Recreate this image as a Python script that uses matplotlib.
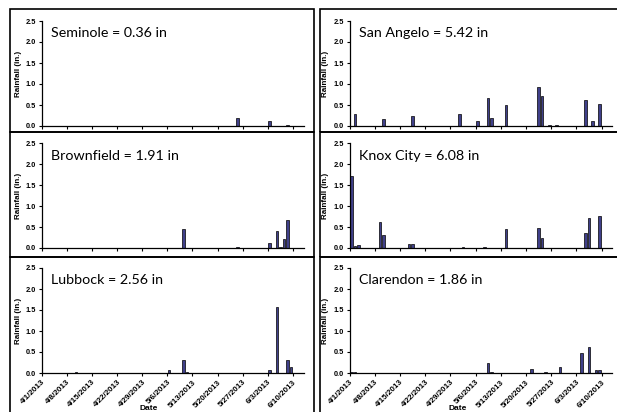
import matplotlib
matplotlib.use("Agg")
import matplotlib.pyplot as plt
from matplotlib.patches import Rectangle
import pandas as pd

# rainfall by station, spring 2013 (dates are m/d)
START = pd.Timestamp("2013-04-01")
N_DAYS = 73

stations = ["Seminole", "San Angelo", "Brownfield", "Knox City", "Lubbock", "Clarendon"]
totals = ["0.36", "5.42", "1.91", "6.08", "2.56", "1.86"]

seminole_dates = ["5/15", "5/25", "6/3", "6/5", "6/8"]
seminole_rain = [0.01, 0.19, 0.12, 0.01, 0.03]

san_angelo_dates = ["4/2", "4/10", "4/18", "5/1", "5/6", "5/9", "5/10", "5/14", "5/15",
                    "5/23", "5/24", "5/26", "5/28", "6/5", "6/7", "6/9"]
san_angelo_rain = [0.28, 0.17, 0.23, 0.29, 0.11, 0.66, 0.20, 0.50, 0.01,
                   0.93, 0.72, 0.03, 0.03, 0.62, 0.11, 0.53]

brownfield_dates = ["5/10", "5/15", "5/25", "6/3", "6/5", "6/6", "6/7", "6/8"]
brownfield_rain = [0.45, 0.01, 0.02, 0.12, 0.40, 0.03, 0.22, 0.66]

knox_city_dates = ["4/1", "4/2", "4/3", "4/9", "4/10", "4/17", "4/18", "5/2", "5/8",
                   "5/14", "5/21", "5/23", "5/24", "5/25", "6/5", "6/6", "6/9"]
knox_city_rain = [1.72, 0.05, 0.07, 0.62, 0.32, 0.10, 0.10, 0.02, 0.02,
                  0.46, 0.01, 0.48, 0.24, 0.01, 0.37, 0.72, 0.77]

lubbock_dates = ["4/10", "5/6", "5/10", "5/11", "5/23", "6/3", "6/5", "6/6", "6/8", "6/9"]
lubbock_rain = [0.02, 0.07, 0.31, 0.03, 0.01, 0.08, 1.57, 0.01, 0.31, 0.15]

clarendon_dates = ["4/1", "4/2", "4/9", "4/10", "4/17", "5/6", "5/7", "5/9", "5/10",
                   "5/17", "5/21", "5/25", "5/29", "6/4", "6/6", "6/8", "6/9"]
clarendon_rain = [0.03, 0.03, 0.01, 0.01, 0.01, 0.01, 0.01, 0.24, 0.02,
                  0.01, 0.10, 0.03, 0.14, 0.47, 0.61, 0.06, 0.07]

tick_labels = ["4/1/2013", "4/8/2013", "4/15/2013", "4/22/2013", "4/29/2013", "5/6/2013",
               "5/13/2013", "5/20/2013", "5/27/2013", "6/3/2013", "6/10/2013"]
y_ticks = [0.0, 0.5, 1.0, 1.5, 2.0, 2.5]

series = [(seminole_dates, seminole_rain), (san_angelo_dates, san_angelo_rain),
          (brownfield_dates, brownfield_rain), (knox_city_dates, knox_city_rain),
          (lubbock_dates, lubbock_rain), (clarendon_dates, clarendon_rain)]


def day_index(md):
    return (pd.Timestamp("2013/" + md) - START).days


W, H = 617, 412
fig = plt.figure(figsize=(W / 100, H / 100), dpi=100)


def rect(x0, y0, x1, y1):
    return [x0 / W, 1 - y1 / H, (x1 - x0) / W, (y1 - y0) / H]


# panel frames (the bottom row and right column run off the picture)
for bx0, bx1 in [(10, 314), (319.5, 640)]:
    for by0, by1 in [(8.5, 132), (132, 257), (257, 440)]:
        fig.add_artist(Rectangle((bx0 / W, 1 - by1 / H), (bx1 - bx0) / W, (by1 - by0) / H,
                                 transform=fig.transFigure, fill=False,
                                 edgecolor="black", linewidth=1.2))

col_x = [(41.7, 303.8), (349.5, 612.3)]
row_y = [(21, 126), (143.5, 248), (268, 373)]
bold = dict(fontweight="bold", family="Liberation Sans")

for i, (dates, rain) in enumerate(series):
    r, c = divmod(i, 2)
    ax = fig.add_axes(rect(col_x[c][0], row_y[r][0], col_x[c][1], row_y[r][1]))
    x = [day_index(d) + 0.5 for d in dates]
    ax.bar(x, rain, width=0.7, color="#40408a", edgecolor="black", linewidth=0.5)

    ax.set_xlim(0, N_DAYS)
    ax.set_ylim(0, 2.5)
    ax.set_yticks(y_ticks)
    ax.set_yticklabels([f"{v:.1f}" for v in y_ticks], fontsize=5.3, **bold)
    ax.set_xticks(range(0, 71, 7))
    if r == 2:
        ax.set_xticklabels(tick_labels, rotation=45, ha="right", rotation_mode="anchor",
                           fontsize=5.8, **bold)
        # "Date" sits at the very bottom edge, as in the original
        fig.text((col_x[c][0] + 0.41 * (col_x[c][1] - col_x[c][0])) / W, 1 - 411.5 / H,
                 "Date", ha="center", va="bottom", fontsize=6, **bold)
    else:
        ax.set_xticklabels([])
    ax.set_ylabel("Rainfall (in.)", fontsize=5.8, labelpad=3, **bold)
    ax.tick_params(direction="out", length=2.5, width=0.8, pad=1.5)
    for s in ["top", "right"]:
        ax.spines[s].set_visible(False)
    for s in ["left", "bottom"]:
        ax.spines[s].set_linewidth(0.9)
    ax.text(0.035, 0.885, f"{stations[i]} = {totals[i]} in", transform=ax.transAxes,
            fontsize=10.3, family="Lato", va="center", ha="left")

fig.savefig("out.png", dpi=100)
